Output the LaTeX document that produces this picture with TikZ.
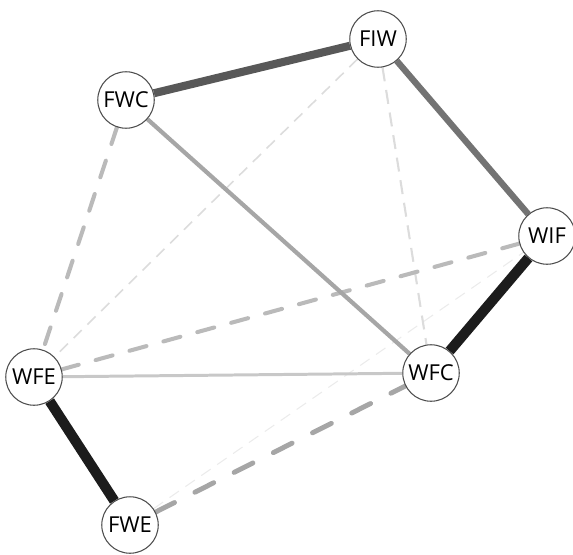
\documentclass[tikz,border=0pt]{standalone}
\usepackage{fontspec}
\setmainfont{Open Sans}
\usetikzlibrary{backgrounds}
\definecolor{wdark}{HTML}{1C1C1C}
\definecolor{wmid}{HTML}{585858}
\definecolor{wgray}{HTML}{737373}
\definecolor{wlight}{HTML}{A6A6A6}
\definecolor{wpale}{HTML}{C8C8C8}
\definecolor{wdash}{HTML}{BABABA}
\definecolor{wfaint}{HTML}{DCDCDC}
\definecolor{wghost}{HTML}{EBEBEB}

\begin{document}
\begin{tikzpicture}[x=0.02cm,y=-0.02cm]
\tikzset{state/.style={circle, draw=black!70, fill=white, line width=0.6pt,
  minimum size=1.13cm, inner sep=0pt, font=\fontsize{12.5}{15}\selectfont}}
\tikzset{solidlink/.style={line width=#1}}
\tikzset{dashlink/.style={line width=#1, line cap=round, dash pattern=on 10pt off 10pt}}
\tikzset{faintlink/.style={line width=#1, dash pattern=on 6.5pt off 4.5pt}}

\useasboundingbox (0,0) rectangle (573,554);

\node[state] (fiw) at (378,39) {FIW};
\node[state] (fwc) at (126,100) {FWC};
\node[state] (wif) at (547,236) {WIF};
\node[state] (wfe) at (34,377) {WFE};
\node[state] (wfc) at (431,373) {WFC};
\node[state] (fwe) at (130,525) {FWE};

\begin{scope}[on background layer]
% faint dashed
\draw [faintlink=0.6pt, wghost] (fwe) edge (wif);
\draw [faintlink=0.9pt, wfaint] (fiw) edge (wfe);
\draw [faintlink=1.2pt, wfaint, dash pattern=on 8pt off 5pt] (fiw) edge (wfc);
% dashed
\draw [dashlink=2.3pt, wdash] (fwc) edge (wfe);
\draw [dashlink=2.3pt, wdash] (wfe) edge (wif);
\draw [dashlink=2.8pt, wlight, dash pattern=on 12pt off 13pt] (fwe) edge (wfc);
% solid
\draw [solidlink=1.7pt, wpale] (wfe) edge (wfc);
\draw [solidlink=2.4pt, wlight] (fwc) edge (wfc);
\draw [solidlink=3.6pt, wgray] (fiw) edge (wif);
\draw [solidlink=4.6pt, wmid] (fwc) edge (fiw);
\draw [solidlink=5.8pt, wdark] (wif) edge (wfc);
\draw [solidlink=5.8pt, wdark] (wfe) edge (fwe);
\end{scope}
\end{tikzpicture}
\end{document}
